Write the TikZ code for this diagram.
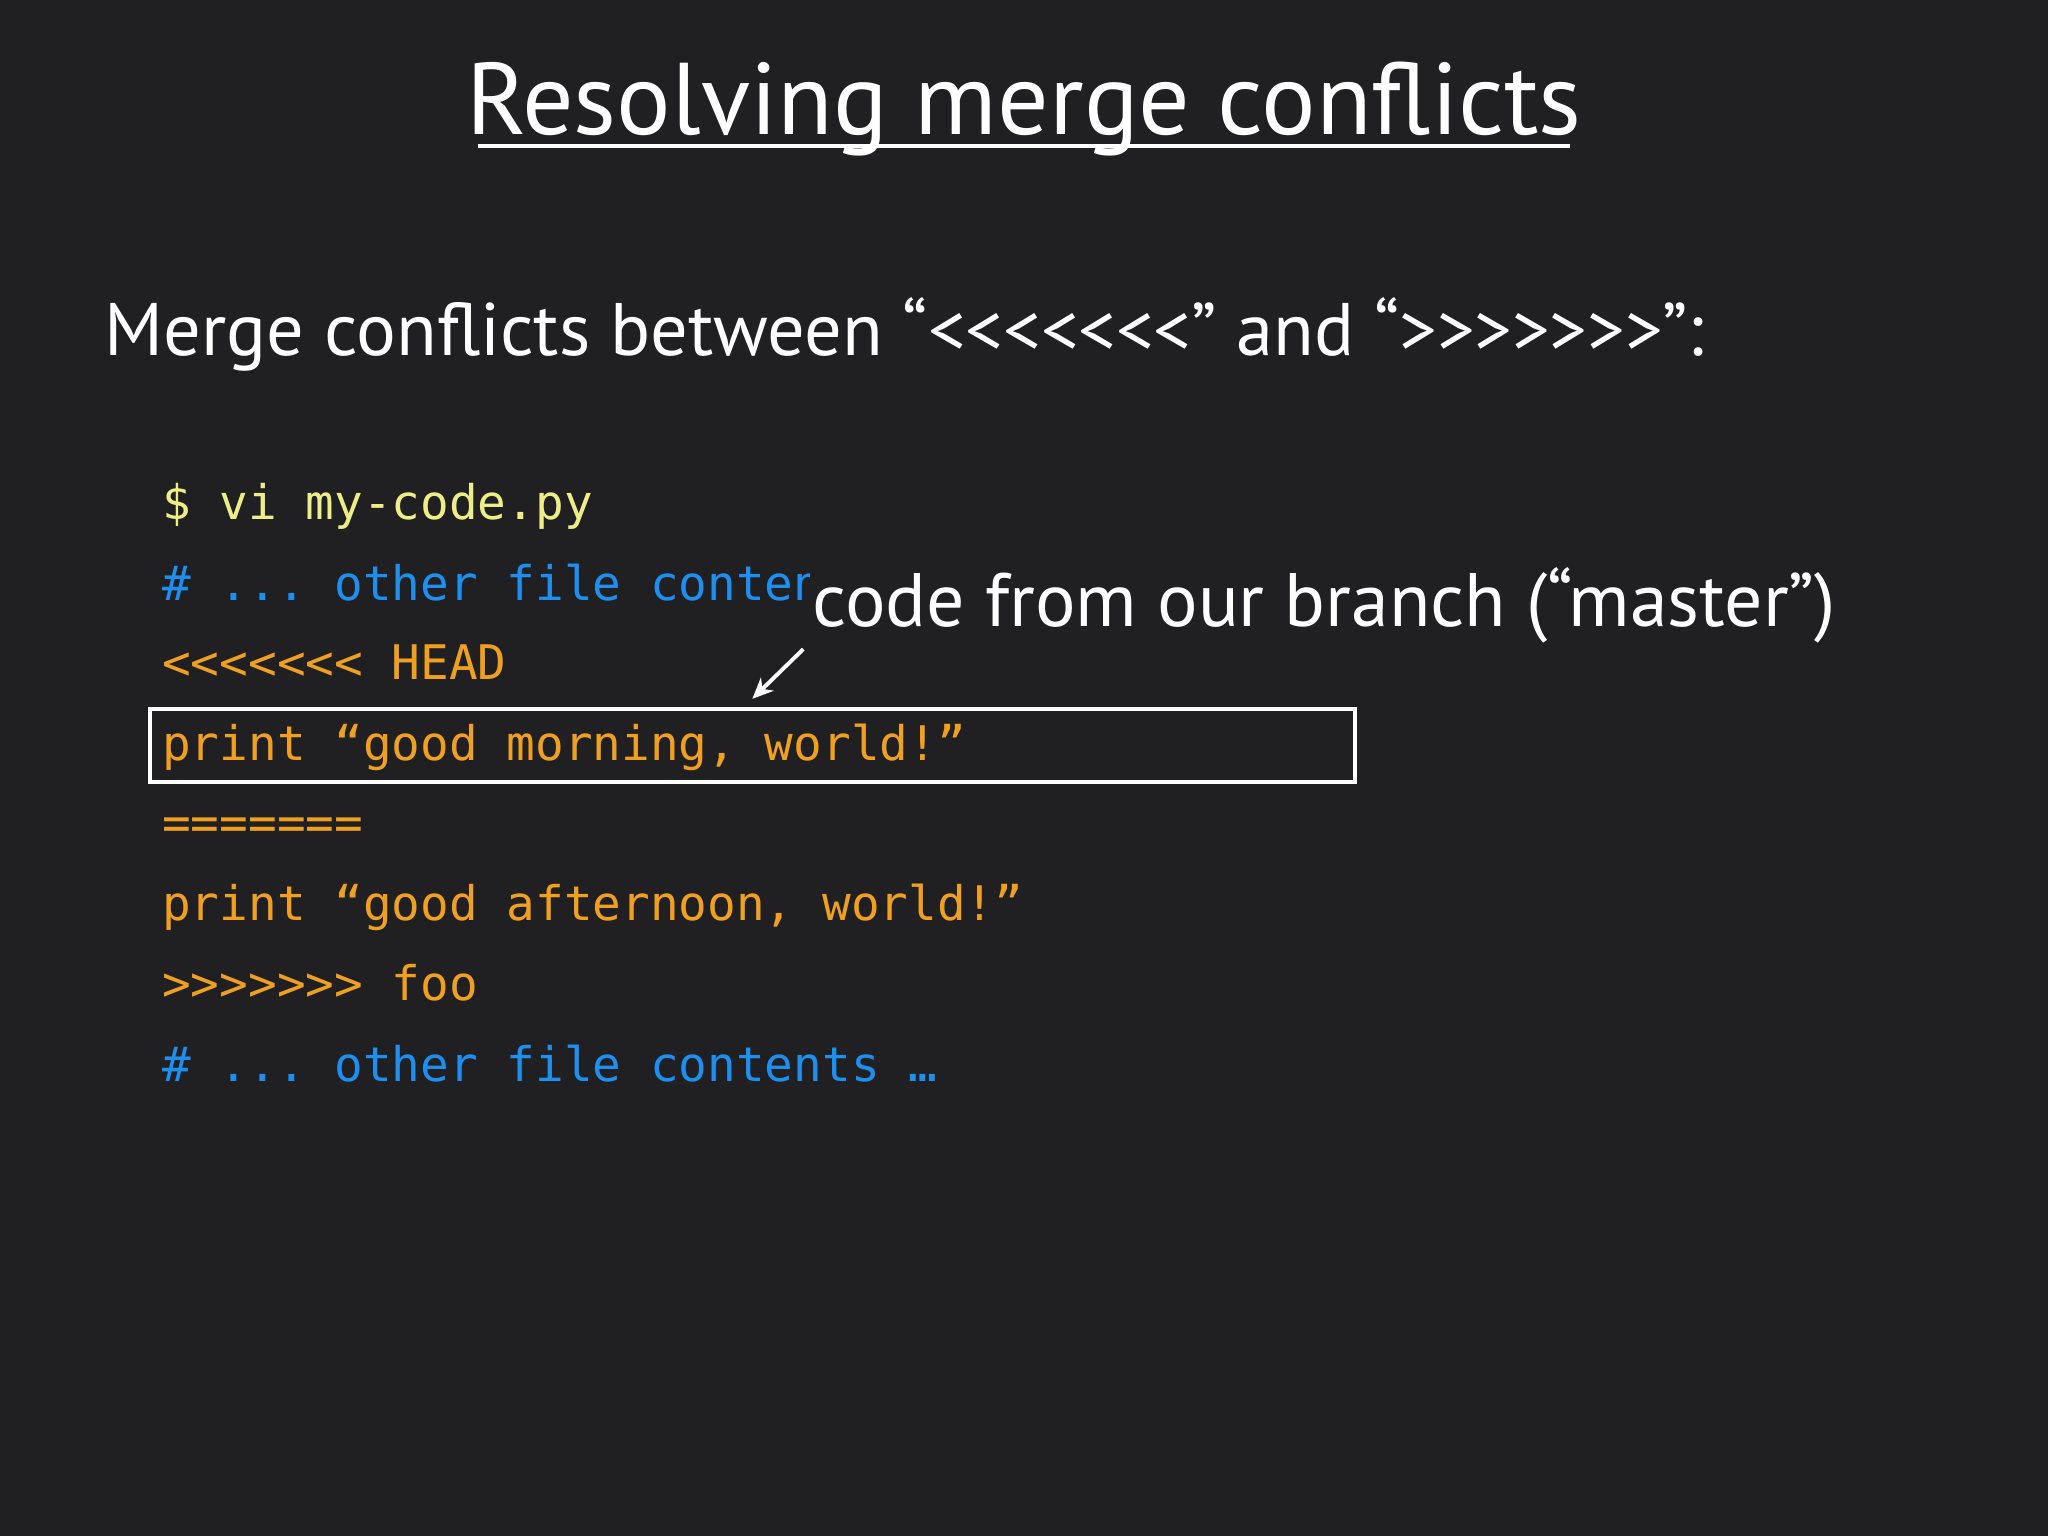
\documentclass[tikz,border=0pt]{standalone}
\usepackage{fontspec}
\usetikzlibrary{arrows.meta}
\setmainfont{PT Sans}
\setmonofont{DejaVu Sans Mono}
\definecolor{bg}{HTML}{202022}
\definecolor{cyel}{HTML}{EEEE88}
\definecolor{cblue}{HTML}{1E8FEF}
\definecolor{corg}{HTML}{F0A020}
\begin{document}
\begin{tikzpicture}[x=1pt,y=-1pt,
  code/.style={anchor=base west,inner sep=0pt,font=\fontsize{36.5}{40}\ttfamily},
  txt/.style={anchor=base west,inner sep=0pt,text=white}]
\fill[bg] (0,0) rectangle (1568,1176);
\useasboundingbox (0,0) rectangle (1568,1176);
\node[anchor=base,inner sep=0pt,text=white,font=\fontsize{78}{88}\selectfont] (title) at (784,103) {Resolving merge conflicts};
\draw[white,line width=3] (366,112) -- (1202,112);
\node[txt,font=\fontsize{57}{64}\selectfont] (sub) at (80,272) {Merge conflicts between “<{}<{}<{}<{}<{}<{}<” and “>{}>{}>{}>{}>{}>{}>”:};
\node[code,text=cyel] (l1) at (124,398) {\$ vi my-code.py};
\node[code,text=cblue] (l2) at (124,460) {\# ... other file contents …};
\node[code,text=corg] (l3) at (124,520) {<{}<{}<{}<{}<{}<{}< HEAD};
\node[code,text=corg] (l4) at (124,582) {print “good morning, world!”};
\node[code,text=corg] (l5) at (124,643) {=======};
\node[code,text=corg] (l6) at (124,705) {print “good afternoon, world!”};
\node[code,text=corg] (l7) at (124,766) {>{}>{}>{}>{}>{}>{}> foo};
\node[code,text=cblue] (l8) at (124,828) {\# ... other file contents …};
\node[draw=white,line width=3,minimum width=923,minimum height=56,anchor=north west,inner sep=0pt] (box) at (113,541) {};
\node[anchor=base west,inner sep=2pt,fill=bg,text=white,font=\fontsize{58}{64}\selectfont] (call) at (620,480) {code from our branch (“master”)};
\coordinate (a1) at (615,497);
\coordinate (a2) at (576,535);
\draw[white,line width=3,-{Stealth[length=16pt,width=14pt]}] (a1) -- (a2);
\end{tikzpicture}
\end{document}
